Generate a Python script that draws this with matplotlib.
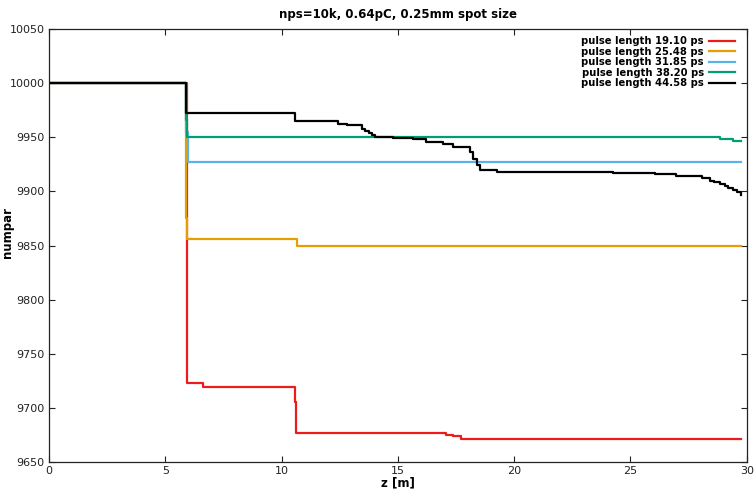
import matplotlib
matplotlib.use("Agg")
import matplotlib.pyplot as plt
from matplotlib.ticker import MultipleLocator

# particle count along z for each pulse length (step data)
labels = ["pulse length 19.10 ps", "pulse length 25.48 ps", "pulse length 31.85 ps",
          "pulse length 38.20 ps", "pulse length 44.58 ps"]
colors = ["#ec1c1c", "#e69f00", "#56b4e9", "#009e73", "#000000"]

z_19 = [0, 5.92, 6.62, 10.57, 10.62, 17.05, 17.37, 17.73, 29.77]
n_19 = [10000, 9723, 9719, 9705, 9677, 9675, 9674, 9671, 9671]

z_25 = [0, 5.89, 5.95, 10.65, 29.77]
n_25 = [10000, 9875, 9856, 9850, 9850]

z_31 = [0, 5.9, 5.96, 29.77]
n_31 = [10000, 9955, 9927, 9927]

z_38 = [0, 5.89, 5.95, 28.85, 29.4, 29.77]
n_38 = [10000, 9966, 9950, 9948, 9947, 9947]

z_44 = [0, 5.89, 10.57, 12.44, 12.8, 13.44, 13.6, 13.75, 13.9, 14.0, 14.79, 15.65,
        16.23, 16.93, 17.37, 18.1, 18.25, 18.39, 18.53, 19.25, 24.25, 26.05, 26.98,
        28.06, 28.42, 28.6, 28.85, 29.05, 29.2, 29.4, 29.6, 29.77]
n_44 = [10000, 9972, 9965, 9962, 9961, 9958, 9956, 9954, 9952, 9950, 9949, 9948,
        9946, 9944, 9941, 9936, 9930, 9924, 9920, 9918, 9917, 9916, 9914,
        9912, 9910, 9909, 9907, 9905, 9903, 9901, 9899, 9897]

series = [(z_19, n_19), (z_25, n_25), (z_31, n_31), (z_38, n_38), (z_44, n_44)]

fig = plt.figure(figsize=(7.55, 4.9), dpi=100)
ax = fig.add_axes([0.0649, 0.0571, 0.9241, 0.8837])

for (z, n), lab, col in zip(series, labels, colors):
    ax.plot(z, n, drawstyle="steps-post", color=col, lw=1.6, label=lab)

ax.set_xlim(0, 30)
ax.set_ylim(9650, 10050)
ax.xaxis.set_major_locator(MultipleLocator(5))
ax.yaxis.set_major_locator(MultipleLocator(50))
ax.tick_params(direction="in", top=True, right=True, length=4, width=0.8,
               labelsize=8, pad=3, colors="#222222")
for s in ax.spines.values():
    s.set_linewidth(0.9)
    s.set_color("#222222")

ax.set_title("nps=10k, 0.64pC, 0.25mm spot size", fontsize=8.5, fontweight="bold", pad=8)
ax.set_xlabel("z [m]", fontsize=8.5, fontweight="bold", labelpad=0)
ax.set_ylabel("numpar", fontsize=8.5, fontweight="bold")
ax.yaxis.set_label_coords(-0.05, 0.53)

leg = ax.legend(loc="upper right", frameon=False, markerfirst=False,
                prop={"size": 7.2, "weight": "bold"}, handlelength=2.6,
                handletextpad=0.5, labelspacing=0.05, borderaxespad=0.3,
                bbox_to_anchor=(0.993, 1.0))

fig.savefig("out.png", dpi=100)
